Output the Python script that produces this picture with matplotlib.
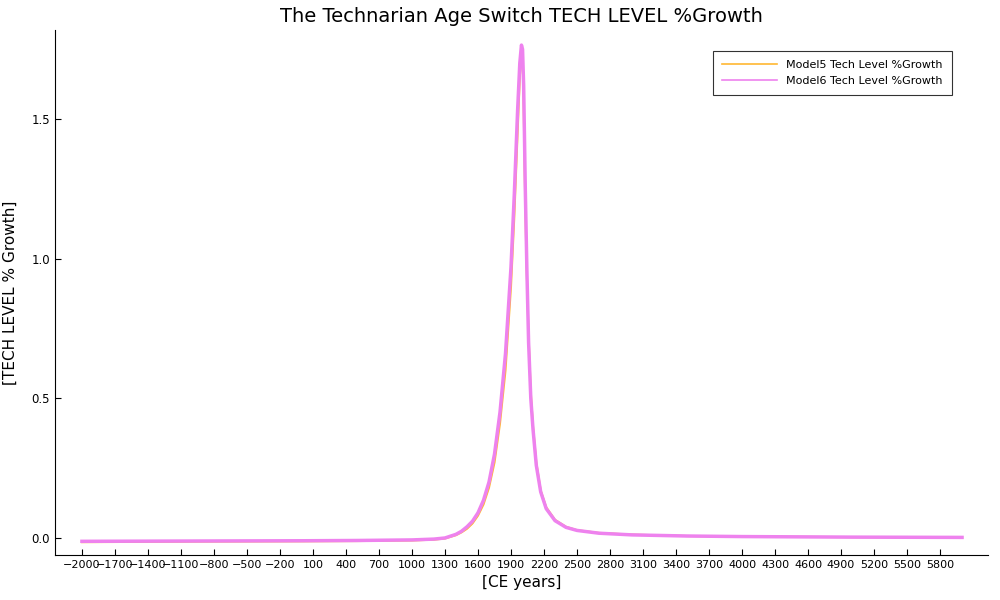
import matplotlib
matplotlib.use("Agg")
import matplotlib.pyplot as plt
from matplotlib.lines import Line2D

years5 = [-2000, -1000, 0, 500, 1000, 1200, 1300, 1400, 1450, 1500, 1550, 1600, 1650, 1700, 1750, 1800, 1850, 1900, 1930, 1960, 1980, 1995, 2005, 2015, 2025, 2040, 2060, 2080, 2100, 2130, 2170, 2220, 2300, 2400, 2500, 2700, 3000, 3500, 4000, 5000, 6000]
vals5 = [-0.015, -0.013, -0.012, -0.011, -0.009, -0.006, -0.002, 0.01, 0.02, 0.033, 0.052, 0.08, 0.12, 0.18, 0.27, 0.41, 0.6, 0.9, 1.15, 1.45, 1.65, 1.74, 1.72, 1.55, 1.3, 1.0, 0.72, 0.52, 0.4, 0.27, 0.17, 0.11, 0.065, 0.04, 0.028, 0.018, 0.012, 0.007, 0.005, 0.003, 0.002]
years6 = [-2000, -1000, 0, 500, 1000, 1200, 1300, 1400, 1450, 1500, 1550, 1600, 1650, 1700, 1750, 1800, 1850, 1900, 1930, 1960, 1980, 1995, 2005, 2015, 2020, 2030, 2045, 2060, 2080, 2100, 2130, 2170, 2220, 2300, 2400, 2500, 2700, 3000, 3500, 4000, 5000, 6000]
vals6 = [-0.012, -0.011, -0.01, -0.009, -0.007, -0.004, 0.0, 0.013, 0.024, 0.04, 0.06, 0.09, 0.135, 0.2, 0.3, 0.45, 0.66, 0.97, 1.23, 1.53, 1.7, 1.765, 1.75, 1.62, 1.5, 1.25, 0.95, 0.7, 0.5, 0.39, 0.26, 0.165, 0.105, 0.062, 0.038, 0.027, 0.017, 0.011, 0.007, 0.005, 0.003, 0.002]
xticks = list(range(-2000, 5801, 300))

fig = plt.figure(figsize=(10, 6), dpi=100)
ax = fig.add_axes([0.055, 0.075, 0.933, 0.875])
ax.plot(years5, vals5, color="#FFB732", lw=1.5)
ax.plot(years6, vals6, color="#EE82EE", lw=2.5)
ax.set_xlim(-2245, 6236)
ax.set_ylim(-0.061, 1.819)
ax.set_xticks(xticks)
ax.set_xticklabels([str(t).replace("-", "\u2212") for t in xticks], fontsize=8)
ax.set_yticks([0, 0.5, 1.0, 1.5])
ax.set_yticklabels(["0.0", "0.5", "1.0", "1.5"], fontsize=8.5)
for s in ["top", "right"]:
    ax.spines[s].set_visible(False)
ax.tick_params(direction="in", length=4)
ax.set_title("The Technarian Age Switch TECH LEVEL %Growth", fontsize=14)
ax.set_xlabel("[CE years]", fontsize=11)
ax.set_ylabel("[TECH LEVEL % Growth]", fontsize=11, labelpad=10)
handles = [Line2D([], [], color="#FFB732", lw=1.2), Line2D([], [], color="#EE82EE", lw=1.2)]
leg = ax.legend(handles, ["Model5 Tech Level %Growth", "Model6 Tech Level %Growth"],
                loc="upper right", fontsize=8, fancybox=False, edgecolor="black",
                bbox_to_anchor=(0.967, 0.97), handlelength=5, borderpad=0.8)
leg.get_frame().set_linewidth(0.8)
fig.savefig("out.png")
